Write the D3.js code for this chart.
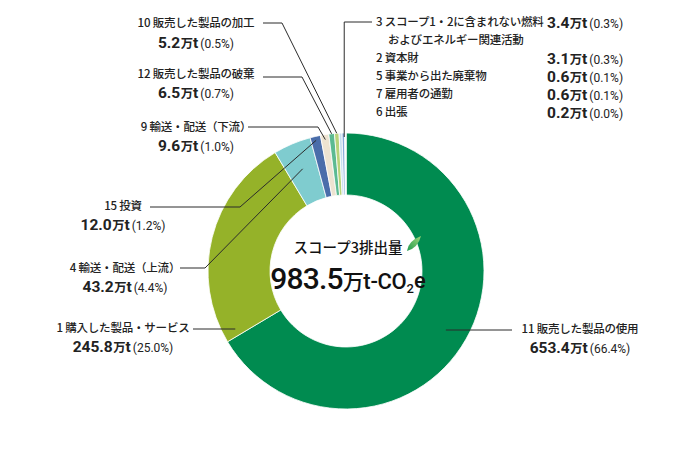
<!DOCTYPE html>
<html><head><meta charset="utf-8">
<script src="https://cdn.jsdelivr.net/npm/d3@7"></script>
<style>
html,body{margin:0;padding:0;background:#fff;}
svg{display:block;font-family:"Noto Sans CJK JP","Noto Sans",sans-serif;}
</style></head>
<body>
<svg id="chart" width="690" height="450"></svg>
<script>
// ---- data ----
const categories = ["11 販売した製品の使用","1 購入した製品・サービス","4 輸送・配送（上流）","15 投資","9 輸送・配送（下流）","12 販売した製品の破棄","10 販売した製品の加工","3 スコープ1・2に含まれない燃料","2 資本財","5 事業から出た廃棄物","7 雇用者の通勤","6 出張"];
const values = [653.4, 245.8, 43.2, 12.0, 9.6, 6.5, 5.2, 3.4, 3.1, 0.6, 0.6, 0.2];
const shares = ["66.4%","25.0%","4.4%","1.2%","1.0%","0.7%","0.5%","0.3%","0.3%","0.1%","0.1%","0.0%"];
const colors = ["#008b50","#95b229","#7fcccf","#4a6daa","#ede3d1","#5cba92","#b8d37a","#c6def0","#86a8d8","#d9ecd6","#a9d6b6","#dddddd"];
const totalLabel = "983.5";
const titleLabel = "スコープ3排出量";

// ---- layout ----
const svg = d3.select("#chart");
const cx = 346, cy = 271, R = 138, r0 = 76;
const g = svg.append("g").attr("transform", `translate(${cx},${cy})`);
const pie = d3.pie().sort(null).value(d => d).startAngle(0).endAngle(2*Math.PI);
const arcs = pie(values);
const arc = d3.arc().innerRadius(r0).outerRadius(R);

g.selectAll("path.slice").data(arcs).enter().append("path")
  .attr("class","slice")
  .attr("d", arc)
  .attr("fill", (d,i) => colors[i])
  .attr("stroke", "#fff").attr("stroke-width", 0.8);

function pt(angle, rad){ return [cx + rad*Math.sin(angle), cy - rad*Math.cos(angle)]; }
function mid(i){ return (arcs[i].startAngle + arcs[i].endAngle)/2; }

const lineColor = "#2b2b2b";
const leaders = svg.append("g").attr("fill","none").attr("stroke",lineColor).attr("stroke-width",1);

const numFont = "Roboto, 'Noto Sans', sans-serif";
function valueText(sel, i, x, y, anchor){
  const t = sel.append("text").attr("x",x).attr("y",y).attr("dy","0.36em")
    .attr("text-anchor",anchor).attr("fill","#222");
  t.append("tspan").attr("font-family",numFont).attr("font-size",15.5).attr("font-weight",700)
    .text(values[i].toFixed(1));
  t.append("tspan").attr("font-size",12.3).attr("font-weight",700).attr("dx",0.5).text("万");
  t.append("tspan").attr("font-family",numFont).attr("font-size",15.5).attr("font-weight",700).text("t");
  t.append("tspan").attr("font-family",numFont).attr("font-size",12).attr("font-weight",400)
    .attr("dx",2).text("(" + shares[i] + ")");
}
function nameText(sel, text, x, y, anchor){
  sel.append("text").attr("x",x).attr("y",y).attr("dy","0.36em")
    .attr("text-anchor",anchor).attr("font-size",11.5).attr("font-weight",500)
    .attr("letter-spacing",-0.2)
    .attr("fill","#222").text(text);
}

const lab = svg.append("g");
const leftLabels = [
  {i:6, x:196, y1:23, y2:42, h:[263,282,23], r:138},
  {i:5, x:196, y1:74, y2:92, h:[263,302,77], r:138},
  {i:4, x:196, y1:127, y2:145, h:[248,318,127], r:133},
  {i:3, x:123, y1:206, y2:224, h:[150,240,207], r:134},
  {i:2, x:125, y1:268, y2:286, h:[180,205,268], r:111}
];
leftLabels.forEach(L => {
  nameText(lab, categories[L.i], L.x, L.y1, "middle");
  valueText(lab, L.i, L.x, L.y2, "middle");
  const e = pt(mid(L.i), L.r);
  leaders.append("path").attr("d", `M${L.h[0]},${L.h[2]}L${L.h[1]},${L.h[2]}L${e[0]},${e[1]}`);
});

// horizontal leaders (1 and 11)
function hx(y, rad, side){ const dy = y - cy; return cx + side*Math.sqrt(rad*rad - dy*dy); }
nameText(lab, categories[1], 123, 328, "middle");
valueText(lab, 1, 123, 346, "middle");
leaders.append("path").attr("d", `M193,329L${hx(329,125,-1)},329`);
nameText(lab, categories[0], 580, 329, "middle");
valueText(lab, 0, 580, 347, "middle");
leaders.append("path").attr("d", `M512,330L${hx(330,116,1)},330`);

// right-top group of small categories
const grpStart = arcs[7].startAngle, grpEnd = arcs[11].endAngle;
const ge = pt((grpStart+grpEnd)/2 + 0.012, R - 4);
leaders.append("path").attr("d", `M${ge[0]},${ge[1]}L${ge[0]},22L372,22`);
const rows = [22, 58, 76, 94, 112];
const idx = [7, 8, 9, 10, 11];
idx.forEach((i,k) => {
  nameText(lab, categories[i], 376, rows[k], "start");
  valueText(lab, i, 547, rows[k], "start");
});
nameText(lab, "およびエネルギー関連活動", 388, 40, "start");

// center text
const ct = svg.append("g");
ct.append("text").attr("x", cx+2).attr("y", 248).attr("dy","0.36em").attr("text-anchor","middle")
  .attr("font-size",14.5).attr("font-weight",500).attr("fill","#111").text(titleLabel);
// leaf icon
const lg = svg.append("defs").append("linearGradient").attr("id","leaf").attr("x1","0").attr("y1","1").attr("x2","1").attr("y2","0");
lg.append("stop").attr("offset","0").attr("stop-color","#1f9a4e");
lg.append("stop").attr("offset","1").attr("stop-color","#9fd77a");
ct.append("path").attr("d","M407,251 Q408,241 421,236 Q418,248 407,251 Z").attr("fill","url(#leaf)");
const tt = ct.append("text").attr("x", cx+2).attr("y", 283).attr("dy","0.36em").attr("text-anchor","middle").attr("fill","#111");
tt.append("tspan").attr("font-family",numFont).attr("font-size",30).attr("font-weight",500).attr("letter-spacing",-0.8).text(totalLabel);
tt.append("tspan").attr("font-size",21).attr("font-weight",500).attr("letter-spacing",-0.5).text("万");
tt.append("tspan").attr("font-family",numFont).attr("font-size",22).attr("font-weight",500).attr("letter-spacing",-0.3).text("t-CO");
tt.append("tspan").attr("font-family",numFont).attr("font-size",13).attr("font-weight",500).attr("dy","0.3em").text("2");
tt.append("tspan").attr("font-family",numFont).attr("font-size",22).attr("font-weight",500).attr("dy","-0.2em").text("e");
</script>
</body></html>
